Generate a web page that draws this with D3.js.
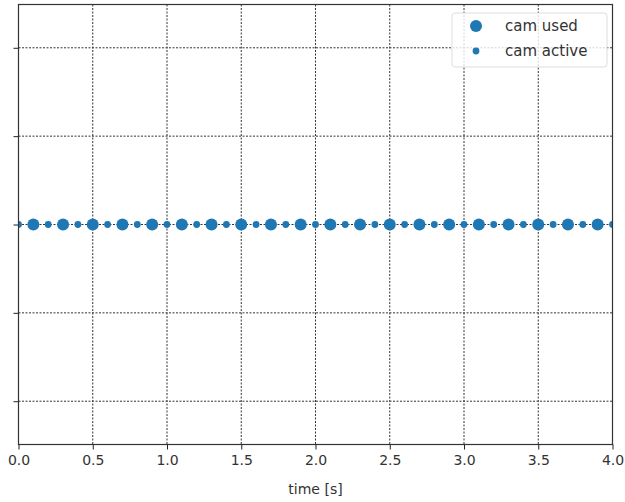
<!DOCTYPE html>
<html>
<head>
<meta charset="utf-8">
<script src="https://cdn.jsdelivr.net/npm/d3@7"></script>
<style>
  html, body { margin: 0; padding: 0; background: #fff; }
  svg { display: block; font-family: "DejaVu Sans", sans-serif; }
</style>
</head>
<body>
<svg id="chart" width="625" height="502"></svg>
<script>
// Camera frame timestamps (seconds); both streams sit on the same level
const camUsedTimes = [0.1, 0.3, 0.5, 0.7, 0.9, 1.1, 1.3, 1.5, 1.7, 1.9,
                      2.1, 2.3, 2.5, 2.7, 2.9, 3.1, 3.3, 3.5, 3.7, 3.9];
const camActiveTimes = [0.0, 0.2, 0.4, 0.6, 0.8, 1.0, 1.2, 1.4, 1.6, 1.8, 2.0,
                        2.2, 2.4, 2.6, 2.8, 3.0, 3.2, 3.4, 3.6, 3.8, 4.0];
const level = 0;
const xTicks = [0.0, 0.5, 1.0, 1.5, 2.0, 2.5, 3.0, 3.5, 4.0];
const yTicks = [-2, -1, 0, 1, 2];
const seriesNames = ["cam used", "cam active"];

const color = "#1f77b4";
const svg = d3.select("#chart");
const m = { left: 18.5, right: 612.5, top: 4.5, bottom: 444.5 };

const x = d3.scaleLinear().domain([0, 4]).range([m.left, m.right]);
const y = d3.scaleLinear().domain([-2.49, 2.49]).range([m.bottom, m.top]);

// clip for markers at the plot edges
svg.append("defs").append("clipPath").attr("id", "plotClip")
  .append("rect").attr("x", m.left).attr("y", m.top)
  .attr("width", m.right - m.left).attr("height", m.bottom - m.top);

// grid
const grid = svg.append("g");
grid.selectAll("line.vx").data(xTicks).join("line")
  .attr("x1", d => x(d)).attr("x2", d => x(d))
  .attr("y1", m.top).attr("y2", m.bottom)
  .attr("stroke", "#333").attr("stroke-width", 1).attr("stroke-dasharray", "2,1.5");
grid.selectAll("line.hy").data(yTicks).join("line")
  .attr("x1", m.left).attr("x2", m.right)
  .attr("y1", d => y(d)).attr("y2", d => y(d))
  .attr("stroke", "#333").attr("stroke-width", 1).attr("stroke-dasharray", "2,1.5");

// markers
const marks = svg.append("g").attr("clip-path", "url(#plotClip)");
marks.selectAll("circle.used").data(camUsedTimes).join("circle")
  .attr("cx", d => x(d)).attr("cy", y(level)).attr("r", 6)
  .attr("fill", color);
marks.selectAll("circle.active").data(camActiveTimes).join("circle")
  .attr("cx", d => x(d)).attr("cy", y(level)).attr("r", 3.4)
  .attr("fill", color);

// axes
const xAxis = d3.axisBottom(x).tickValues(xTicks).tickFormat(d3.format(".1f"))
  .tickSize(5).tickPadding(6);
const gx = svg.append("g").attr("transform", `translate(0,${m.bottom})`).call(xAxis);
gx.select(".domain").remove();
gx.selectAll(".tick line").attr("stroke", "#222").attr("stroke-width", 1);
gx.selectAll(".tick text").attr("fill", "#333").style("font-size", "14px")
  .style("font-family", "DejaVu Sans");

const yAxis = d3.axisLeft(y).tickValues(yTicks).tickFormat("").tickSize(5);
const gy = svg.append("g").attr("transform", `translate(${m.left},0)`).call(yAxis);
gy.select(".domain").remove();
gy.selectAll(".tick line").attr("stroke", "#222").attr("stroke-width", 1);

// frame
svg.append("rect").attr("x", m.left).attr("y", m.top)
  .attr("width", m.right - m.left).attr("height", m.bottom - m.top)
  .attr("fill", "none").attr("stroke", "#333").attr("stroke-width", 1.2);

// axis label
svg.append("text").attr("x", (m.left + m.right) / 2).attr("y", 494)
  .attr("text-anchor", "middle").attr("fill", "#333").style("font-size", "14px")
  .text("time [s]");

// legend
const lg = svg.append("g").attr("transform", "translate(452,13)");
lg.append("rect").attr("x", 0).attr("y", 0).attr("width", 155).attr("height", 54)
  .attr("rx", 3).attr("fill", "rgba(255,255,255,0.8)").attr("stroke", "#ddd");
const radii = [6, 3.4];
seriesNames.forEach((name, i) => {
  const cy = 13 + i * 25;
  lg.append("circle").attr("cx", 24).attr("cy", cy).attr("r", radii[i]).attr("fill", color);
  lg.append("text").attr("x", 53).attr("y", cy + 5).attr("fill", "#333")
    .style("font-size", "15px").text(name);
});
</script>
</body>
</html>
